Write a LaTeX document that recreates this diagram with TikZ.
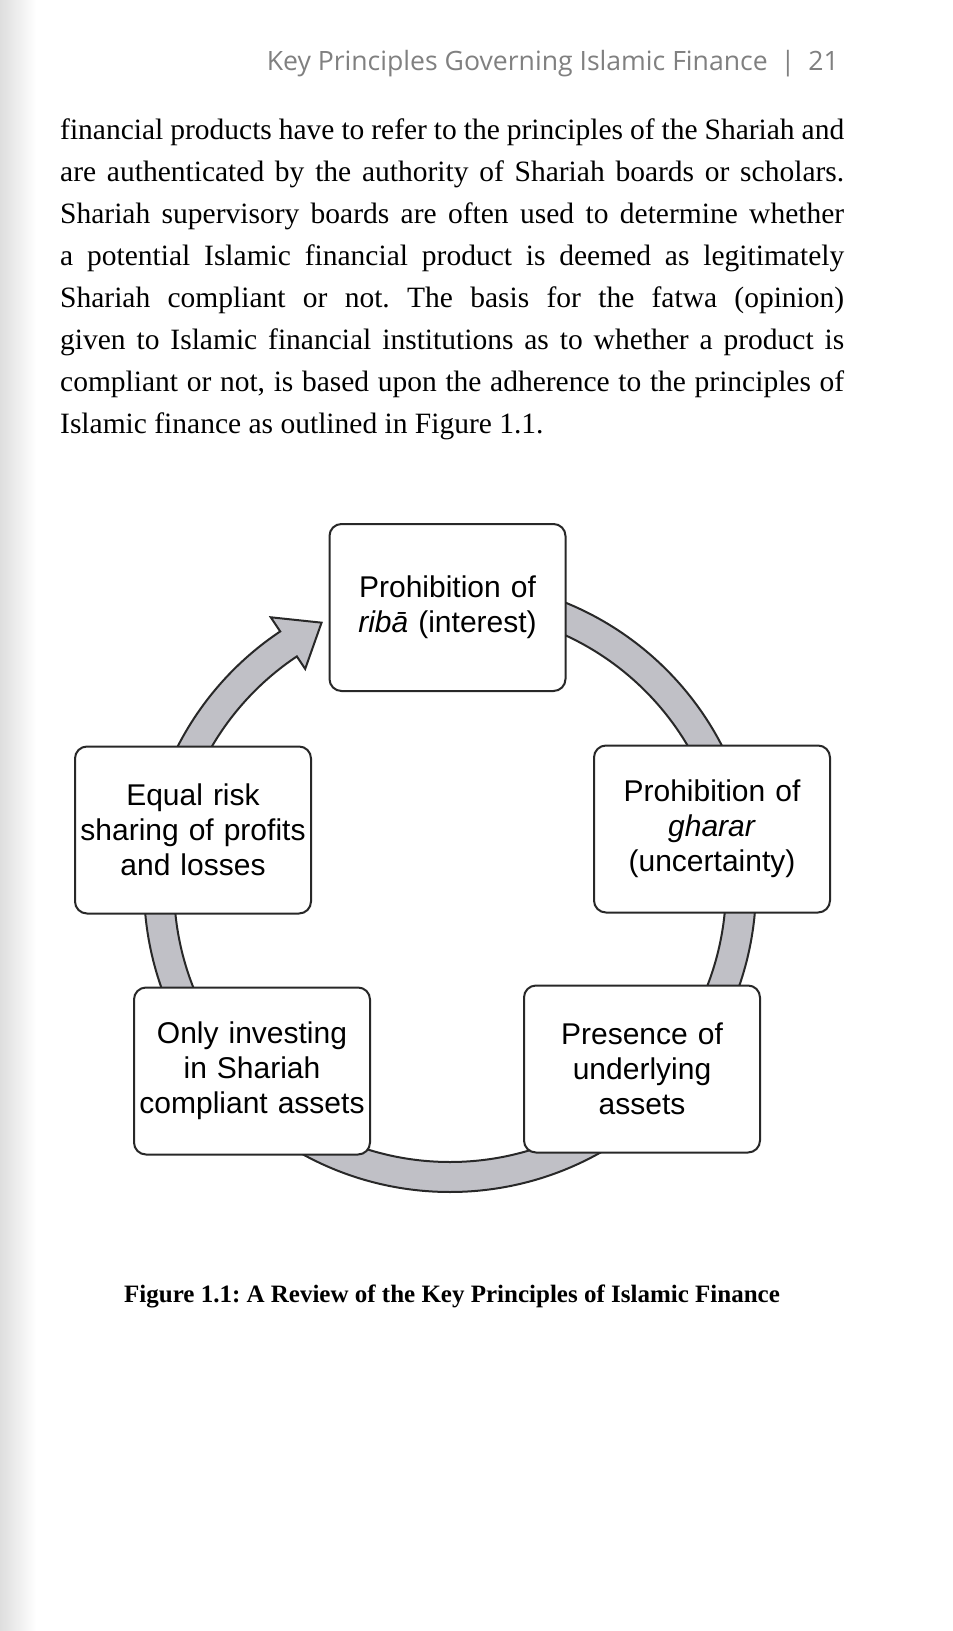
\documentclass[tikz,border=0pt]{standalone}
\usepackage{fontspec}
\setmainfont{Liberation Serif}
\newfontfamily\boxfont{Liberation Sans}
\newfontfamily\headfont{Open Sans}
\definecolor{bandgray}{RGB}{192,192,198}
\definecolor{inkgray}{RGB}{40,40,40}
\newcommand\pline[1]{\hbox to 784pt{#1}}
\frenchspacing

\begin{document}
\begin{tikzpicture}[x=1pt, y=1pt,
	principle/.style={draw=inkgray, line width=2pt, fill=white, rounded corners=12pt,
		minimum width=236pt, minimum height=167pt, text width=232pt, align=center,
		inner sep=0pt, font=\boxfont\fontsize{30}{35}\selectfont},
	band/.style={draw=inkgray, line width=2pt, fill=bandgray},
	body/.style={inner sep=0pt, font=\fontsize{29.5}{41.9}\selectfont},
	header/.style={inner sep=0pt, text=black!50, font=\headfont\fontsize{26.6}{30}\selectfont},
	caption/.style={inner sep=0pt, font=\bfseries\fontsize{25}{30}\selectfont}]
	\useasboundingbox (0,0) rectangle (953,-1631);
	\fill[white] (0,0) rectangle (953,-1631);
	\shade[left color=black!13, right color=white] (0,0) rectangle (36,-1631);

	% running head and text
	\node[header, anchor=base east] (head) at (839,-70) {Key Principles Governing Islamic Finance\hspace{13pt}|\hspace{13pt}21};
	\node[body, anchor=base west] (para) at (60,-433) {\vbox{\baselineskip=41.9pt
		\pline{financial products have to refer to the principles of the Shariah and}
		\pline{are authenticated by the authority of Shariah boards or scholars.}
		\pline{Shariah supervisory boards are often used to determine whether}
		\pline{a potential Islamic financial product is deemed as legitimately}
		\pline{Shariah compliant or not. The basis for the fatwa (opinion)}
		\pline{given to Islamic financial institutions as to whether a product is}
		\pline{compliant or not, is based upon the adherence to the principles of}
		\hbox{Islamic finance as outlined in Figure 1.1.}}};

	% cycle
	\coordinate (hub) at (450,-886);
	\draw[band] ([shift={(hub)}]80:306pt) arc[start angle=80, end angle=22, radius=306pt]
		-- ([shift={(hub)}]22:276pt) arc[start angle=22, end angle=80, radius=276pt] -- cycle;
	\draw[band] ([shift={(hub)}]8:306pt) arc[start angle=8, end angle=-35, radius=306pt]
		-- ([shift={(hub)}]-35:276pt) arc[start angle=-35, end angle=8, radius=276pt] -- cycle;
	\draw[band] ([shift={(hub)}]-48:306pt) arc[start angle=-48, end angle=-132, radius=306pt]
		-- ([shift={(hub)}]-132:276pt) arc[start angle=-132, end angle=-48, radius=276pt] -- cycle;
	\draw[band] ([shift={(hub)}]215:306pt) arc[start angle=215, end angle=172, radius=306pt]
		-- ([shift={(hub)}]172:276pt) arc[start angle=172, end angle=215, radius=276pt] -- cycle;
	\draw[band] ([shift={(hub)}]165:306pt) arc[start angle=165, end angle=123.7, radius=306pt]
		-- ([shift={(hub)}]123.7:323pt) -- ([shift={(hub)}]116:293pt)
		-- ([shift={(hub)}]123.7:261pt) -- ([shift={(hub)}]123.7:276pt)
		arc[start angle=123.7, end angle=165, radius=276pt] -- cycle;

	\node[principle] (riba) at (447.5,-607.5) {Prohibition of\\\textit{ribā} (interest)};
	\node[principle] (gharar) at (712,-829) {Prohibition of\\\textit{gharar}\\(uncertainty)};
	\node[principle] (assets) at (642,-1069) {Presence of\\underlying\\assets};
	\node[principle] (halal) at (252,-1071) {Only investing\\in Shariah\\compliant assets};
	\node[principle] (risk) at (193,-830) {Equal risk\\sharing of profits\\and losses};

	\node[caption, anchor=base] (cap) at (452,-1302) {Figure 1.1: A Review of the Key Principles of Islamic Finance};
\end{tikzpicture}
\end{document}
